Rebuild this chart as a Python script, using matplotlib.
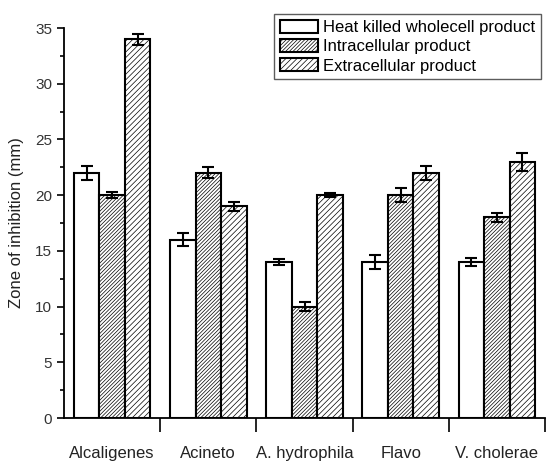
import numpy as np
import matplotlib
matplotlib.use("Agg")
import matplotlib.pyplot as plt
from matplotlib.ticker import MultipleLocator, FixedLocator

plt.rcParams['font.family'] = ['Liberation Sans', 'DejaVu Sans']
plt.rcParams['hatch.linewidth'] = 0.5
plt.rcParams['hatch.color'] = '#666666'

bacteria = ["Alcaligenes", "Acineto", "A. hydrophila", "Flavo", "V. cholerae"]
series = ["Heat killed wholecell product", "Intracellular product", "Extracellular product"]
heat_killed = [22, 16, 14, 14, 14]
heat_killed_err = [0.6, 0.6, 0.3, 0.6, 0.4]
intracellular = [20, 22, 10, 20, 18]
intracellular_err = [0.3, 0.5, 0.4, 0.6, 0.4]
extracellular = [34, 19, 20, 22, 23]
extracellular_err = [0.5, 0.4, 0.2, 0.6, 0.8]

values = [heat_killed, intracellular, extracellular]
errors = [heat_killed_err, intracellular_err, extracellular_err]
hatches = [None, '/////////', '//////']

fig = plt.figure(figsize=(5.5, 4.61), dpi=100)
ax = fig.add_axes([64/550, 1-418/461, (545-64)/550, (418-28)/461])

w = 0.265
x = np.arange(len(bacteria)) + 0.5
for i in range(3):
    ax.bar(x + (i-1)*w, values[i], w, yerr=errors[i], color='white', edgecolor='black',
           linewidth=1.5, hatch=hatches[i], label=series[i],
           error_kw=dict(ecolor='black', elinewidth=1.5, capsize=4, capthick=1.5))

ax.set_xlim(0, 5)
ax.set_ylim(0, 35)
ax.spines['top'].set_visible(False)
ax.spines['right'].set_visible(False)
ax.spines['left'].set_linewidth(1.3)
ax.spines['bottom'].set_linewidth(1.3)

ax.xaxis.set_major_locator(FixedLocator([1, 2, 3, 4, 5]))
ax.xaxis.set_minor_locator(FixedLocator(x))
ax.set_xticklabels([])
ax.set_xticklabels(bacteria, minor=True, fontsize=12, color='#222222')
ax.tick_params(axis='x', which='major', direction='out', length=10, width=1.2)
ax.tick_params(axis='x', which='minor', length=0, pad=20)

ax.yaxis.set_major_locator(MultipleLocator(5))
ax.yaxis.set_minor_locator(MultipleLocator(2.5))
ax.tick_params(axis='y', which='major', direction='out', length=5, width=1.2, labelsize=11,
               labelcolor='#333333')
ax.tick_params(axis='y', which='minor', direction='out', length=3, width=1.2)
ax.set_ylabel("Zone of inhibition (mm)", fontsize=12, labelpad=8, color='#222222')

leg = ax.legend(loc='upper right', bbox_to_anchor=(541/550, 1-14/461), bbox_transform=fig.transFigure,
                fontsize=12, frameon=True, fancybox=False, edgecolor='#333333',
                handlelength=2.3, handleheight=0.8, handletextpad=0.3, labelspacing=0.25,
                borderpad=0.35, borderaxespad=0)
leg.get_frame().set_linewidth(1.0)

fig.savefig("out.png", dpi=100)
